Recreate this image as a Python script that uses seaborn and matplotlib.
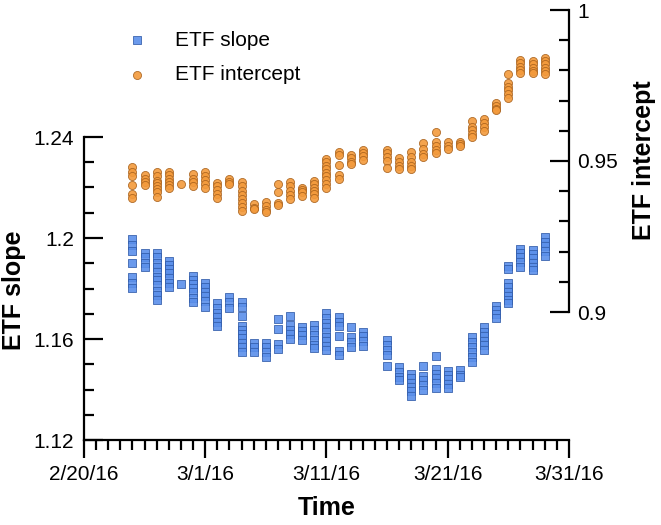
import numpy as np
import pandas as pd
import matplotlib
import matplotlib.pyplot as plt
import matplotlib.dates as mdates
from matplotlib.ticker import FixedLocator
import seaborn as sns

plt.switch_backend('agg')

# ---- data ----
days = ["2016-02-24", "2016-02-25", "2016-02-26", "2016-02-27", "2016-02-28",
        "2016-02-29", "2016-03-01", "2016-03-02", "2016-03-03", "2016-03-04",
        "2016-03-05", "2016-03-06", "2016-03-07", "2016-03-08", "2016-03-09",
        "2016-03-10", "2016-03-11", "2016-03-12", "2016-03-13", "2016-03-14",
        "2016-03-16", "2016-03-17", "2016-03-18", "2016-03-19", "2016-03-20",
        "2016-03-21", "2016-03-22", "2016-03-23", "2016-03-24", "2016-03-25",
        "2016-03-26", "2016-03-27", "2016-03-28", "2016-03-29"]

slope = [
    [1.1995, 1.1972, 1.1949, 1.190, 1.1844, 1.1823, 1.1801],
    [1.1942, 1.1926, 1.190, 1.1887],
    [1.1942, 1.1924, 1.1902, 1.1886, 1.1867, 1.1847, 1.1834, 1.1814, 1.1791, 1.1774, 1.1754],
    [1.191, 1.1893, 1.1876, 1.186, 1.184, 1.1823, 1.1805],
    [1.1818],
    [1.1849, 1.1834, 1.1818, 1.1801, 1.1787, 1.1761, 1.1748],
    [1.1823, 1.1807, 1.1787, 1.177, 1.1752, 1.1728],
    [1.1741, 1.1722, 1.1704, 1.1686, 1.1669, 1.1651],
    [1.1765, 1.1748, 1.1722],
    [1.1748, 1.1728, 1.1691, 1.1651, 1.1636, 1.162, 1.1603, 1.1585, 1.157, 1.155],
    [1.1583, 1.1567, 1.155],
    [1.1583, 1.1567, 1.155, 1.153],
    [1.1678, 1.1638, 1.158, 1.1559],
    [1.1691, 1.1655, 1.1636, 1.162, 1.1599],
    [1.1649, 1.1633, 1.1616, 1.1596],
    [1.1655, 1.1636, 1.1616, 1.1596, 1.1576, 1.1563],
    [1.1702, 1.1684, 1.1665, 1.1646, 1.1629, 1.1609, 1.1592, 1.1572, 1.1556],
    [1.1688, 1.1669, 1.1651, 1.1612, 1.1554, 1.1537],
    [1.1649, 1.1607, 1.1589, 1.157],
    [1.1629, 1.1612, 1.1593, 1.1572],
    [1.1596, 1.1576, 1.1556, 1.1537, 1.1493],
    [1.149, 1.147, 1.1451, 1.1438],
    [1.1461, 1.1444, 1.1427, 1.1411, 1.1394, 1.1374],
    [1.1493, 1.1453, 1.1438, 1.1418, 1.1398],
    [1.1534, 1.148, 1.1461, 1.1444, 1.1425, 1.1405],
    [1.1475, 1.1457, 1.144, 1.1422, 1.1407],
    [1.1477, 1.1457, 1.1448],
    [1.1609, 1.1589, 1.157, 1.155, 1.153, 1.151],
    [1.1646, 1.1629, 1.1612, 1.1593, 1.1576, 1.1556],
    [1.1731, 1.1715, 1.1699, 1.1682],
    [1.1889, 1.1876, 1.1821, 1.1805, 1.1787, 1.177, 1.1754, 1.1741],
    [1.1955, 1.194, 1.1924, 1.1906, 1.1887],
    [1.1952, 1.1937, 1.192, 1.1902, 1.1887, 1.1873],
    [1.2005, 1.1985, 1.1968, 1.195, 1.1929],
]

intercept = [
    [0.948, 0.9463, 0.945, 0.942, 0.939, 0.9377],
    [0.9453, 0.944, 0.9429, 0.942],
    [0.9462, 0.9449, 0.9434, 0.9427, 0.9418, 0.9407, 0.9396, 0.9382],
    [0.9464, 0.9453, 0.9442, 0.9431, 0.942, 0.9411],
    [0.9423],
    [0.9457, 0.9442, 0.9431, 0.9416],
    [0.9462, 0.9451, 0.9438, 0.9423, 0.9412],
    [0.9427, 0.9416, 0.9404, 0.939, 0.9376],
    [0.944, 0.9432, 0.9425],
    [0.9431, 0.9418, 0.9401, 0.9387, 0.9373, 0.9362, 0.9349, 0.9334],
    [0.9357, 0.9346, 0.934],
    [0.9364, 0.9351, 0.9338, 0.9331],
    [0.9423, 0.9398, 0.9362, 0.9353],
    [0.9429, 0.9416, 0.9401, 0.9387, 0.9373],
    [0.9412, 0.9404, 0.9396, 0.9384],
    [0.9434, 0.9423, 0.9412, 0.9401, 0.939, 0.9379],
    [0.9507, 0.9496, 0.9484, 0.9473, 0.946, 0.9449, 0.9438, 0.9423, 0.9409],
    [0.9531, 0.9521, 0.9487, 0.9453, 0.944],
    [0.952, 0.9509, 0.9498, 0.949],
    [0.9538, 0.9527, 0.9516, 0.9504],
    [0.9538, 0.9527, 0.9512, 0.9501, 0.9476],
    [0.9509, 0.9496, 0.9484, 0.9473],
    [0.9529, 0.9512, 0.9496, 0.9484, 0.9473],
    [0.956, 0.954, 0.9523, 0.9512],
    [0.9596, 0.9562, 0.9549, 0.9538, 0.9527],
    [0.9562, 0.9551, 0.954],
    [0.9564, 0.9557, 0.9551],
    [0.9634, 0.9612, 0.9601, 0.959, 0.9579],
    [0.964, 0.9627, 0.9612, 0.9598],
    [0.9693, 0.9682, 0.9673, 0.9668],
    [0.9787, 0.9757, 0.9746, 0.9734, 0.9723, 0.9707],
    [0.9834, 0.9823, 0.9812, 0.9801, 0.979],
    [0.9831, 0.982, 0.9809, 0.9798, 0.979],
    [0.9842, 0.9831, 0.982, 0.9809, 0.9798, 0.9787],
]

time_ticks = ["2/20/16", "3/1/16", "3/11/16", "3/21/16", "3/31/16"]
slope_ticks = [1.12, 1.16, 1.2, 1.24]
intercept_ticks = [0.9, 0.95, 1.0]


def long_table(values):
    rows = [(pd.Timestamp(d), v) for d, vals in zip(days, values) for v in vals]
    return pd.DataFrame(rows, columns=['time', 'value'])


sns.set_style("ticks", {'axes.edgecolor': 'black', 'xtick.color': 'black',
                        'ytick.color': 'black', 'text.color': 'black',
                        'axes.labelcolor': 'black'})
plt.rcParams['font.family'] = ['Liberation Sans', 'DejaVu Sans']
plt.rcParams['axes.linewidth'] = 1.6

dslope = long_table(slope)
dint = long_table(intercept)

fig = plt.figure(figsize=(6.61, 5.25), dpi=100)
W, H = 661, 525
left, right, bottom, top = 84, 569, 440, 10
ax = fig.add_axes([left / W, (H - bottom) / H, (right - left) / W, (bottom - top) / H])
ax2 = ax.twinx()

blue, blue_edge = "#5b8fea", "#2f5aa8"
orange, orange_edge = "#f39a3c", "#a8611c"

sns.scatterplot(data=dslope, x='time', y='value', ax=ax, marker='s', s=32,
                color=blue, edgecolor=blue_edge, linewidth=0.6, alpha=0.9,
                label="ETF slope", legend=False)
sns.scatterplot(data=dint, x='time', y='value', ax=ax2, marker='o', s=34,
                color=orange, edgecolor=orange_edge, linewidth=0.6, alpha=0.9,
                label="ETF intercept", legend=False)

# x axis
tick_dates = pd.to_datetime(time_ticks, format="%m/%d/%y")
ax.set_xlim(tick_dates[0], tick_dates[-1])
ax.xaxis.set_major_locator(FixedLocator(mdates.date2num(tick_dates)))
ax.set_xticklabels(time_ticks)
ax.xaxis.set_minor_locator(mdates.DayLocator())
ax.tick_params(axis='x', which='major', direction='out', length=13, width=1.6,
               labelsize=15, pad=5)
ax.tick_params(axis='x', which='minor', direction='out', length=7.5, width=1.6)

# left axis (slope)
lo = slope_ticks[0]
ax.set_ylim(lo, lo + (bottom - top) / ((bottom - 137) / (slope_ticks[-1] - lo)))
ax.set_yticks(slope_ticks)
ax.set_yticklabels([f"{t:g}" for t in slope_ticks])
ax.yaxis.set_minor_locator(FixedLocator(np.arange(1.12, 1.2401, 0.01)))
ax.tick_params(axis='y', which='major', direction='in', length=13.5, width=1.6,
               labelsize=15, pad=7)
ax.tick_params(axis='y', which='minor', direction='in', length=7.5, width=1.6)
ax.spines['left'].set_bounds(slope_ticks[0], slope_ticks[-1])
ax.spines['top'].set_visible(False)
ax.spines['right'].set_visible(False)

# right axis (intercept)
hi = intercept_ticks[-1]
px_per = (312 - top) / (hi - intercept_ticks[0])
ax2.set_ylim(hi - (bottom - top) / px_per, hi)
ax2.set_yticks(intercept_ticks)
ax2.set_yticklabels([f"{t:g}" for t in intercept_ticks])
ax2.yaxis.set_minor_locator(FixedLocator(np.arange(0.9, 1.0001, 0.01)))
ax2.tick_params(axis='y', which='major', direction='in', length=13.5, width=1.6,
                labelsize=15, pad=6)
ax2.tick_params(axis='y', which='minor', direction='in', length=7.5, width=1.6)
ax2.spines['right'].set_bounds(intercept_ticks[0], intercept_ticks[-1])
for s in ['top', 'left', 'bottom']:
    ax2.spines[s].set_visible(False)

ax.set_xlabel("Time", fontsize=18, fontweight='bold')
ax.xaxis.set_label_coords(0.5, -0.13)
ax.set_ylabel("ETF slope", fontsize=18, fontweight='bold')
ax.yaxis.set_label_coords(-0.12, 0.349)
ax2.set_ylabel("ETF intercept", fontsize=18, fontweight='bold')
ax2.yaxis.set_label_coords(1.13, 0.651)

h1, l1 = ax.get_legend_handles_labels()
h2, l2 = ax2.get_legend_handles_labels()
ax2.legend(h1 + h2, l1 + l2, loc='upper left', bbox_to_anchor=(0.179, 0.957),
           bbox_transform=fig.transFigure, frameon=False, fontsize=15,
           handlelength=1.0, handletextpad=1.33, labelspacing=0.74,
           borderaxespad=0, markerscale=1.0)

plt.savefig("out.png", dpi=100)
